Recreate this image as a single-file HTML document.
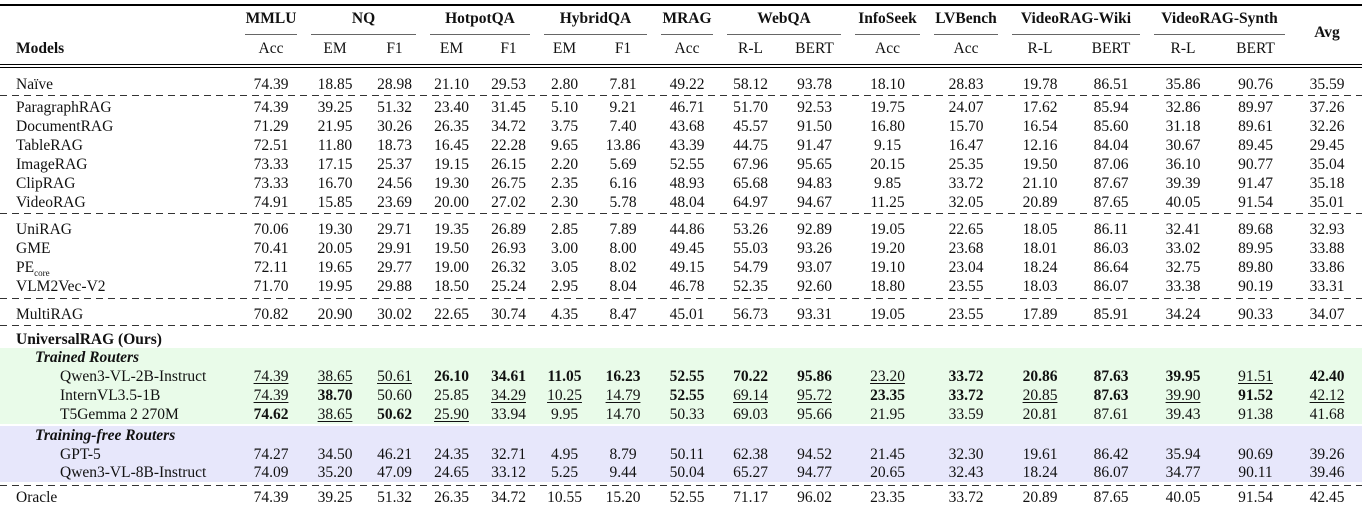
<!DOCTYPE html>
<html><head><meta charset="utf-8"><style>
*{margin:0;padding:0;box-sizing:border-box}
body{width:1362px;height:510px;background:#fff;font-family:"Liberation Serif",serif;font-size:15.5px;color:#111;position:relative;overflow:hidden}
.r{display:flex;line-height:19px;white-space:nowrap}
.r>span{text-align:center;display:block;flex:none}
.r>span:nth-child(1){width:238px;text-align:left;padding-left:16px}
.r>span:nth-child(2){width:66px}
.r>span:nth-child(3){width:62px}
.r>span:nth-child(4){width:57px}
.r>span:nth-child(5){width:57px}
.r>span:nth-child(6){width:57px}
.r>span:nth-child(7){width:55px}
.r>span:nth-child(8){width:62px}
.r>span:nth-child(9){width:66px}
.r>span:nth-child(10){width:61px}
.r>span:nth-child(11){width:67px}
.r>span:nth-child(12){width:79px}
.r>span:nth-child(13){width:78px}
.r>span:nth-child(14){width:70px}
.r>span:nth-child(15){width:72px}
.r>span:nth-child(16){width:72px}
.r>span:nth-child(17){width:73px}
.r>span:nth-child(18){width:70px}
.r>span.in{padding-left:60px}
.r>span.sub{padding-left:35px;font-weight:bold;font-style:italic}
u{text-decoration:underline;text-underline-offset:2px;text-decoration-thickness:1px}
.dash{height:1px;background:repeating-linear-gradient(90deg,#333 0 7px,transparent 7px 12px)}
.g{background:#e9fbe9}.p{background:#e7e7fb}
.h1{display:flex;height:30px;font-weight:bold;line-height:26px}
.h1 span{display:block;text-align:center;position:relative;flex:none}
.h1 span.l::after{content:"";position:absolute;left:7px;right:7px;bottom:1px;height:1px;background:#666}
</style></head><body>
<div style="height:4px"></div>
<div style="height:2px;background:#000"></div>
<div class="h1">
<span style="width:238px"></span>
<span class="l" style="width:66px">MMLU</span>
<span class="l" style="width:119px">NQ</span>
<span class="l" style="width:114px">HotpotQA</span>
<span class="l" style="width:117px">HybridQA</span>
<span class="l" style="width:66px">MRAG</span>
<span class="l" style="width:128px">WebQA</span>
<span class="l" style="width:79px">InfoSeek</span>
<span class="l" style="width:78px">LVBench</span>
<span class="l" style="width:142px">VideoRAG-Wiki</span>
<span class="l" style="width:145px">VideoRAG-Synth</span>
<span style="width:70px"></span>
</div>
<div class="r" style="height:28px;padding-top:3px"><span><b>Models</b></span><span>Acc</span><span>EM</span><span>F1</span><span>EM</span><span>F1</span><span>EM</span><span>F1</span><span>Acc</span><span>R-L</span><span>BERT</span><span>Acc</span><span>Acc</span><span>R-L</span><span>BERT</span><span>R-L</span><span>BERT</span><span></span></div>
<div style="position:absolute;left:1292px;width:70px;top:23px;text-align:center;font-weight:bold;line-height:20px">Avg</div>
<div style="height:4px;border-top:1px solid #000;border-bottom:1px solid #000"></div>
<div class="r" style="height:27px;padding-top:7px"><span>Naïve</span><span>74.39</span><span>18.85</span><span>28.98</span><span>21.10</span><span>29.53</span><span>2.80</span><span>7.81</span><span>49.22</span><span>58.12</span><span>93.78</span><span>18.10</span><span>28.83</span><span>19.78</span><span>86.51</span><span>35.86</span><span>90.76</span><span>35.59</span></div>
<div class="dash"></div>
<div class="r" style="height:21px;padding-top:2px"><span>ParagraphRAG</span><span>74.39</span><span>39.25</span><span>51.32</span><span>23.40</span><span>31.45</span><span>5.10</span><span>9.21</span><span>46.71</span><span>51.70</span><span>92.53</span><span>19.75</span><span>24.07</span><span>17.62</span><span>85.94</span><span>32.86</span><span>89.97</span><span>37.26</span></div>
<div class="r" style="height:19px"><span>DocumentRAG</span><span>71.29</span><span>21.95</span><span>30.26</span><span>26.35</span><span>34.72</span><span>3.75</span><span>7.40</span><span>43.68</span><span>45.57</span><span>91.50</span><span>16.80</span><span>15.70</span><span>16.54</span><span>85.60</span><span>31.18</span><span>89.61</span><span>32.26</span></div>
<div class="r" style="height:19px"><span>TableRAG</span><span>72.51</span><span>11.80</span><span>18.73</span><span>16.45</span><span>22.28</span><span>9.65</span><span>13.86</span><span>43.39</span><span>44.75</span><span>91.47</span><span>9.15</span><span>16.47</span><span>12.16</span><span>84.04</span><span>30.67</span><span>89.45</span><span>29.45</span></div>
<div class="r" style="height:19px"><span>ImageRAG</span><span>73.33</span><span>17.15</span><span>25.37</span><span>19.15</span><span>26.15</span><span>2.20</span><span>5.69</span><span>52.55</span><span>67.96</span><span>95.65</span><span>20.15</span><span>25.35</span><span>19.50</span><span>87.06</span><span>36.10</span><span>90.77</span><span>35.04</span></div>
<div class="r" style="height:19px"><span>ClipRAG</span><span>73.33</span><span>16.70</span><span>24.56</span><span>19.30</span><span>26.75</span><span>2.35</span><span>6.16</span><span>48.93</span><span>65.68</span><span>94.83</span><span>9.85</span><span>33.72</span><span>21.10</span><span>87.67</span><span>39.39</span><span>91.47</span><span>35.18</span></div>
<div class="r" style="height:20px"><span>VideoRAG</span><span>74.91</span><span>15.85</span><span>23.69</span><span>20.00</span><span>27.02</span><span>2.30</span><span>5.78</span><span>48.04</span><span>64.97</span><span>94.67</span><span>11.25</span><span>32.05</span><span>20.89</span><span>87.65</span><span>40.05</span><span>91.54</span><span>35.01</span></div>
<div class="dash"></div>
<div class="r" style="height:25px;padding-top:6px"><span>UniRAG</span><span>70.06</span><span>19.30</span><span>29.71</span><span>19.35</span><span>26.89</span><span>2.85</span><span>7.89</span><span>44.86</span><span>53.26</span><span>92.89</span><span>19.05</span><span>22.65</span><span>18.05</span><span>86.11</span><span>32.41</span><span>89.68</span><span>32.93</span></div>
<div class="r" style="height:19px"><span>GME</span><span>70.41</span><span>20.05</span><span>29.91</span><span>19.50</span><span>26.93</span><span>3.00</span><span>8.00</span><span>49.45</span><span>55.03</span><span>93.26</span><span>19.20</span><span>23.68</span><span>18.01</span><span>86.03</span><span>33.02</span><span>89.95</span><span>33.88</span></div>
<div class="r" style="height:19px"><span>PE<sub style="font-size:9px">core</sub></span><span>72.11</span><span>19.65</span><span>29.77</span><span>19.00</span><span>26.32</span><span>3.05</span><span>8.02</span><span>49.15</span><span>54.79</span><span>93.07</span><span>19.10</span><span>23.04</span><span>18.24</span><span>86.64</span><span>32.75</span><span>89.80</span><span>33.86</span></div>
<div class="r" style="height:21px"><span>VLM2Vec-V2</span><span>71.70</span><span>19.95</span><span>29.88</span><span>18.50</span><span>25.24</span><span>2.95</span><span>8.04</span><span>46.78</span><span>52.35</span><span>92.60</span><span>18.80</span><span>23.55</span><span>18.03</span><span>86.07</span><span>33.38</span><span>90.19</span><span>33.31</span></div>
<div class="dash"></div>
<div class="r" style="height:26px;padding-top:6px"><span>MultiRAG</span><span>70.82</span><span>20.90</span><span>30.02</span><span>22.65</span><span>30.74</span><span>4.35</span><span>8.47</span><span>45.01</span><span>56.73</span><span>93.31</span><span>19.05</span><span>23.55</span><span>17.89</span><span>85.91</span><span>34.24</span><span>90.33</span><span>34.07</span></div>
<div class="dash"></div>
<div class="r" style="height:22px;padding-top:4px"><span><b>UniversalRAG (Ours)</b></span></div>
<div class="r g" style="height:19px"><span class="sub">Trained Routers</span></div>
<div class="r g" style="height:19px"><span class="in">Qwen3-VL-2B-Instruct</span><span><u>74.39</u></span><span><u>38.65</u></span><span><u>50.61</u></span><span><b>26.10</b></span><span><b>34.61</b></span><span><b>11.05</b></span><span><b>16.23</b></span><span><b>52.55</b></span><span><b>70.22</b></span><span><b>95.86</b></span><span><u>23.20</u></span><span><b>33.72</b></span><span><b>20.86</b></span><span><b>87.63</b></span><span><b>39.95</b></span><span><u>91.51</u></span><span><b>42.40</b></span></div>
<div class="r g" style="height:19px"><span class="in">InternVL3.5-1B</span><span><u>74.39</u></span><span><b>38.70</b></span><span>50.60</span><span>25.85</span><span><u>34.29</u></span><span><u>10.25</u></span><span><u>14.79</u></span><span><b>52.55</b></span><span><u>69.14</u></span><span><u>95.72</u></span><span><b>23.35</b></span><span><b>33.72</b></span><span><u>20.85</u></span><span><b>87.63</b></span><span><u>39.90</u></span><span><b>91.52</b></span><span><u>42.12</u></span></div>
<div class="r g" style="height:19px"><span class="in">T5Gemma 2 270M</span><span><b>74.62</b></span><span><u>38.65</u></span><span><b>50.62</b></span><span><u>25.90</u></span><span>33.94</span><span>9.95</span><span>14.70</span><span>50.33</span><span>69.03</span><span>95.66</span><span>21.95</span><span>33.59</span><span>20.81</span><span>87.61</span><span>39.43</span><span>91.38</span><span>41.68</span></div>
<div style="height:2px"></div>
<div class="r p" style="height:19px"><span class="sub">Training-free Routers</span></div>
<div class="r p" style="height:18px"><span class="in">GPT-5</span><span>74.27</span><span>34.50</span><span>46.21</span><span>24.35</span><span>32.71</span><span>4.95</span><span>8.79</span><span>50.11</span><span>62.38</span><span>94.52</span><span>21.45</span><span>32.30</span><span>19.61</span><span>86.42</span><span>35.94</span><span>90.69</span><span>39.26</span></div>
<div class="r p" style="height:19px"><span class="in">Qwen3-VL-8B-Instruct</span><span>74.09</span><span>35.20</span><span>47.09</span><span>24.65</span><span>33.12</span><span>5.25</span><span>9.44</span><span>50.04</span><span>65.27</span><span>94.77</span><span>20.65</span><span>32.43</span><span>18.24</span><span>86.07</span><span>34.77</span><span>90.11</span><span>39.46</span></div>
<div style="height:3px"></div>
<div class="dash"></div>
<div class="r" style="height:24px;padding-top:2px"><span>Oracle</span><span>74.39</span><span>39.25</span><span>51.32</span><span>26.35</span><span>34.72</span><span>10.55</span><span>15.20</span><span>52.55</span><span>71.17</span><span>96.02</span><span>23.35</span><span>33.72</span><span>20.89</span><span>87.65</span><span>40.05</span><span>91.54</span><span>42.45</span></div>
</body></html>
